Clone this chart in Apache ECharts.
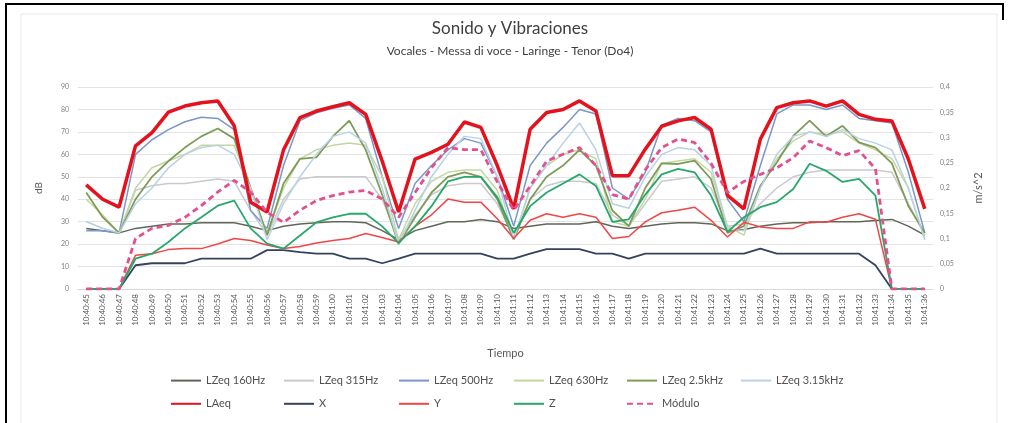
<!DOCTYPE html>
<html>
<head>
<meta charset="utf-8">
<title>Sonido y Vibraciones</title>
<script src="https://cdn.jsdelivr.net/npm/echarts@6.0.0/dist/echarts.min.js"></script>
<style>
  html, body { margin: 0; padding: 0; background: #fff; }
  #chart { width: 1014px; height: 423px; }
</style>
</head>
<body>
<div id="chart"></div>
<script>
// tiempo 10:40:45 .. 10:41:36
const tiempo = []
for (let s = 45; s <= 96; s++) {
  const m = s < 60 ? 40 : 41
  const ss = s % 60
  tiempo.push('10:' + m + ':' + (ss < 10 ? '0' + ss : ss))
}

// niveles sonoros (dB)
const lzeq160 = [27, 26, 25, 27, 28, 29, 29, 29.5, 29.5, 29.5, 28, 26, 28, 29, 29.5, 30, 30, 29.5, 26, 22, 26, 28, 30, 30, 31, 30, 27, 28, 29, 29, 29, 30, 28, 27, 28, 29, 29.5, 29.5, 29, 26, 26.5, 28, 29, 29.5, 29.5, 30, 30, 30, 30.5, 31, 28, 24]
const lzeq315 = [30, 27, 25, 44, 46, 47, 47, 48, 49, 48, 35, 24, 40, 49, 50, 50, 50, 50, 40, 22, 33, 42, 46, 47, 47, 38, 23, 40, 46, 48, 48, 47, 33, 28, 38, 48, 49, 50, 45, 28, 29, 38, 45, 50, 52, 53, 53, 53, 53, 52, 38, 24]
const lzeq500 = [26, 26, 25, 60, 66.5, 71, 74.5, 76.5, 76, 71, 35, 27, 55, 75, 78.5, 80.5, 82, 76, 50, 27, 47, 55, 62, 67, 65, 50, 28, 55, 65, 72, 80, 78, 45, 40, 52, 73, 76, 75, 70, 40, 30, 55, 78, 82, 82, 80, 82, 76, 75, 74, 52, 25]
const lzeq630 = [40, 33, 25, 45, 54, 57, 60, 64, 64, 64, 45, 25, 45, 58, 62, 64, 65, 64, 50, 22, 38, 48, 52, 53, 53, 44, 22, 45, 55, 60, 62, 58, 30, 28, 40, 56, 57, 58, 52, 28, 24, 45, 58, 66, 70, 69, 70, 65, 62, 58, 45, 22]
const lzeq2k5 = [43, 32, 25, 40, 50, 57, 63, 68, 71.5, 67, 45, 24, 47, 58, 58.6, 68, 75, 62, 42, 20, 32, 43, 50, 52, 50, 40, 22, 40, 50, 55, 62, 55, 35, 28, 45, 56, 55.7, 57.2, 49, 25, 28, 46, 56.4, 68.2, 75, 68, 72.7, 65.3, 63, 56, 37, 25]
const lzeq3k15 = [30, 27, 25, 38, 45, 54, 60, 63, 64, 60, 45, 22, 38, 50, 60, 68, 70, 65, 45, 20, 35, 50, 60, 68, 67, 50, 22, 45, 55, 65, 74, 62, 38, 36, 50, 60, 63, 62, 55, 27, 26, 45, 60, 68, 70, 68, 71, 67, 65, 62, 45, 22]
const laeq = [46.4, 40, 36.5, 63.8, 69.7, 78.8, 81.5, 83, 83.8, 72.7, 38.7, 34.3, 62, 76.4, 79.3, 81.2, 83, 77.8, 57, 34.3, 57.9, 60.9, 64.5, 74.4, 72, 55, 35.7, 71.2, 78.6, 80, 83.8, 79.3, 50.5, 50.5, 62.3, 72.5, 74.9, 76.4, 71.2, 41.7, 35.7, 66.8, 80.8, 83, 83.8, 81.5, 83.8, 77.8, 75.6, 74.9, 57.9, 35.7]

// vibraciones (m/s^2)
const vibX = [0, 0, 0, 0.047, 0.051, 0.051, 0.051, 0.06, 0.06, 0.06, 0.06, 0.077, 0.077, 0.073, 0.07, 0.07, 0.06, 0.06, 0.051, 0.06, 0.07, 0.07, 0.07, 0.07, 0.07, 0.06, 0.06, 0.07, 0.079, 0.079, 0.079, 0.07, 0.07, 0.06, 0.07, 0.07, 0.07, 0.07, 0.07, 0.07, 0.07, 0.08, 0.07, 0.07, 0.07, 0.07, 0.07, 0.07, 0.047, 0, 0, 0]
const vibY = [0, 0, 0, 0.067, 0.07, 0.078, 0.08, 0.08, 0.089, 0.1, 0.096, 0.087, 0.08, 0.084, 0.091, 0.096, 0.1, 0.11, 0.102, 0.093, 0.124, 0.147, 0.178, 0.172, 0.172, 0.139, 0.1, 0.136, 0.149, 0.142, 0.149, 0.142, 0.1, 0.104, 0.133, 0.151, 0.156, 0.162, 0.136, 0.103, 0.132, 0.123, 0.12, 0.12, 0.133, 0.132, 0.142, 0.149, 0.138, 0, 0, 0]
const vibZ = [0, 0, 0, 0.06, 0.07, 0.093, 0.12, 0.142, 0.165, 0.175, 0.12, 0.09, 0.08, 0.106, 0.132, 0.142, 0.149, 0.149, 0.124, 0.091, 0.124, 0.164, 0.213, 0.222, 0.222, 0.182, 0.111, 0.164, 0.191, 0.209, 0.227, 0.204, 0.133, 0.138, 0.187, 0.227, 0.238, 0.231, 0.185, 0.113, 0.142, 0.162, 0.172, 0.198, 0.248, 0.234, 0.212, 0.218, 0.185, 0, 0, 0]
const modulo = [0, 0, 0, 0.1, 0.12, 0.126, 0.142, 0.165, 0.192, 0.215, 0.192, 0.152, 0.132, 0.156, 0.175, 0.185, 0.192, 0.195, 0.178, 0.142, 0.191, 0.24, 0.28, 0.276, 0.276, 0.212, 0.156, 0.204, 0.253, 0.267, 0.28, 0.244, 0.187, 0.178, 0.236, 0.28, 0.297, 0.29, 0.249, 0.191, 0.213, 0.227, 0.24, 0.26, 0.293, 0.28, 0.264, 0.274, 0.238, 0, 0, 0]

const font = 'Lato'
const chart = echarts.init(document.getElementById('chart'))

function linea(name, data, color, width, axis, type) {
  return {
    name: name,
    type: 'line',
    data: data,
    yAxisIndex: axis || 0,
    symbol: 'none',
    smooth: false,
    lineStyle: { color: color, width: width, type: type || 'solid' },
    itemStyle: { color: color }
  }
}

const legendCols = [
  ['LZeq 160Hz', 'LAeq'],
  ['LZeq 315Hz', 'X'],
  ['LZeq 500Hz', 'Y'],
  ['LZeq 630Hz', 'Z'],
  ['LZeq 2.5kHz', 'Módulo'],
  ['LZeq 3.15kHz']
]
const legendLeft = [170, 283, 398, 513, 626, 740]

chart.setOption({
  animation: false,
  backgroundColor: '#fff',
  title: {
    text: 'Sonido y Vibraciones',
    subtext: 'Vocales - Messa di voce - Laringe - Tenor (Do4)',
    left: 505,
    top: 15,
    textAlign: 'center',
    itemGap: 8,
    textStyle: { fontFamily: font, fontSize: 17, fontWeight: 'normal', color: '#404040' },
    subtextStyle: { fontFamily: font, fontSize: 12, color: '#404040' }
  },
  legend: legendCols.map((d, k) => ({
    data: d,
    orient: 'vertical',
    left: legendLeft[k],
    top: 375,
    padding: 0,
    itemWidth: 30,
    itemHeight: 14,
    itemGap: 12,
    itemStyle: { opacity: 0 },
    textStyle: { fontFamily: font, fontSize: 11, color: '#505050' }
  })),
  grid: {
    left: 78,
    right: 81,
    top: 87,
    bottom: 134
  },
  xAxis: {
    type: 'category',
    data: tiempo,
    boundaryGap: true,
    name: 'Tiempo',
    nameLocation: 'middle',
    nameGap: 59,
    nameTextStyle: { fontFamily: font, fontSize: 11, color: '#595959' },
    axisLine: { lineStyle: { color: '#d9d9d9' } },
    axisTick: { show: false },
    axisLabel: { interval: 0, rotate: 90, fontFamily: font, fontSize: 8, color: '#595959', margin: 5 }
  },
  yAxis: [
    {
      type: 'value',
      min: 0,
      max: 90,
      interval: 10,
      name: 'dB',
      nameLocation: 'middle',
      nameRotate: 90,
      nameGap: 34,
      nameTextStyle: { fontFamily: font, fontSize: 10, color: '#595959' },
      axisLine: { show: false },
      axisTick: { show: false },
      axisLabel: { fontFamily: font, fontSize: 7, color: '#7f7f7f', margin: 9 },
      splitLine: { lineStyle: { color: '#e3e3e3' } }
    },
    {
      type: 'value',
      min: 0,
      max: 0.4,
      interval: 0.05,
      name: 'm/s^2',
      nameLocation: 'middle',
      nameRotate: 90,
      nameGap: 40,
      nameTextStyle: { fontFamily: font, fontSize: 11, color: '#595959' },
      axisLine: { show: false },
      axisTick: { show: false },
      splitLine: { show: false },
      axisLabel: {
        fontFamily: font, fontSize: 7, color: '#7f7f7f', margin: 7,
        formatter: v => String(Math.round(v * 100) / 100).replace('.', ',')
      }
    }
  ],
  graphic: [
    { type: 'rect', shape: { x: 21, y: 14, width: 976, height: 420 }, style: { fill: 'none', stroke: '#e8e8e8', lineWidth: 1 }, silent: true },
    { type: 'line', shape: { x1: 6, y1: 4, x2: 6, y2: 423 }, style: { stroke: '#000', lineWidth: 2 }, silent: true },
    { type: 'line', shape: { x1: 5, y1: 4, x2: 1004, y2: 4 }, style: { stroke: '#000', lineWidth: 2 }, silent: true },
    { type: 'line', shape: { x1: 1003, y1: 4, x2: 1003, y2: 20 }, style: { stroke: '#000', lineWidth: 2 }, silent: true }
  ],
  series: [
    linea('LZeq 160Hz', lzeq160, '#62665a', 1.5),
    linea('LZeq 315Hz', lzeq315, '#c9c9cf', 1.5),
    linea('LZeq 500Hz', lzeq500, '#7b96c8', 1.5),
    linea('LZeq 630Hz', lzeq630, '#c3d7a0', 1.5),
    linea('LZeq 2.5kHz', lzeq2k5, '#7e9b58', 1.8),
    linea('LZeq 3.15kHz', lzeq3k15, '#b7d2e6', 1.5),
    linea('LAeq', laeq, '#e3121c', 3.5),
    linea('X', vibX, '#34425e', 1.8, 1),
    linea('Y', vibY, '#ef4747', 1.5, 1),
    linea('Z', vibZ, '#27a86a', 1.8, 1),
    linea('Módulo', modulo, '#e2508e', 2.8, 1, [6, 4])
  ]
})
</script>
</body>
</html>
